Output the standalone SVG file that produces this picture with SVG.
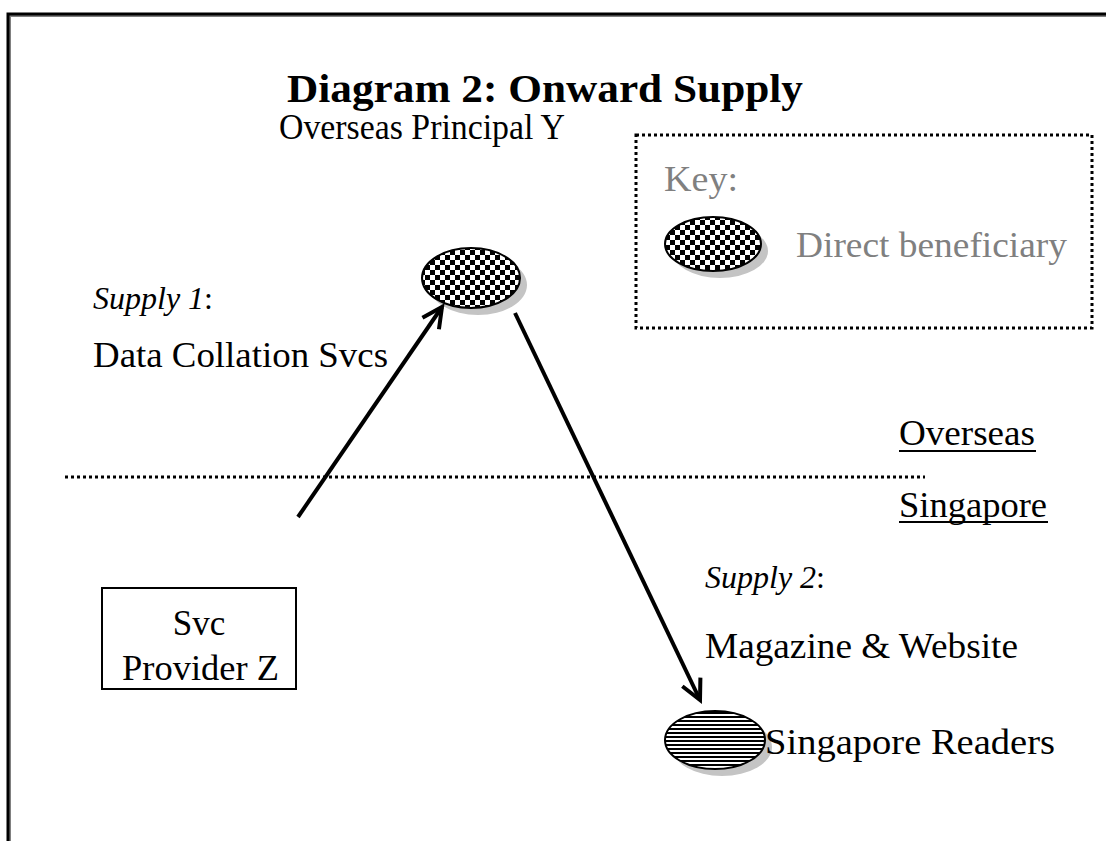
<svg xmlns="http://www.w3.org/2000/svg" width="1106" height="841" viewBox="0 0 1106 841">
<style>
text{font-family:"Liberation Serif","Times New Roman",serif;font-size:35px;fill:#000}
.title{font-weight:bold;font-size:41px}
.grey{fill:#808080}
.it{font-style:italic}
.sup{font-size:32px}
.dot{fill:none;stroke:#000;stroke-width:3;stroke-dasharray:3 3}
.arrow{fill:none;stroke:#000;stroke-width:4;marker-end:url(#head)}
.shadow{fill:#c4c4c4}
.outline{stroke:#000;stroke-width:2}
</style>
<defs>
<pattern id="checker" width="10" height="10" patternUnits="userSpaceOnUse">
<rect width="10" height="10" fill="#fff"/>
<rect width="5" height="5" fill="#000"/>
<rect x="5" y="5" width="5" height="5" fill="#000"/>
</pattern>
<pattern id="stripes" width="10" height="4" patternUnits="userSpaceOnUse">
<rect width="10" height="4" fill="#fff"/>
<rect width="10" height="2" fill="#000"/>
</pattern>
<marker id="head" markerUnits="userSpaceOnUse" markerWidth="30" markerHeight="30" viewBox="-24 -15 30 30" refX="0" refY="0" orient="auto">
<path d="M-20,-10 L0,0 L-20,10" fill="none" stroke="#000" stroke-width="4"/>
</marker>
</defs>
<rect width="1106" height="841" fill="#fff"/>
<g id="frame">
<path d="M10,841 V16 H1106" fill="none" stroke="#808080" stroke-width="2"/>
<path d="M8,841 V14 H1106" fill="none" stroke="#000" stroke-width="3"/>
</g>
<g id="title"><text class="title" x="287" y="102" textLength="516" lengthAdjust="spacingAndGlyphs">Diagram 2: Onward Supply</text></g>
<g id="key">
<rect x="636" y="135" width="456" height="193" class="dot"/>
<text class="grey" x="664" y="191" textLength="74" lengthAdjust="spacingAndGlyphs">Key:</text>
<ellipse cx="720" cy="251" rx="48" ry="27" class="shadow"/>
<ellipse cx="713" cy="244" rx="48" ry="27" fill="url(#checker)" class="outline"/>
<text class="grey" x="796" y="257" textLength="271" lengthAdjust="spacingAndGlyphs">Direct beneficiary</text>
</g>
<g id="divider">
<line x1="65" y1="477" x2="925" y2="477" class="dot"/>
<text x="899" y="445" textLength="136" lengthAdjust="spacingAndGlyphs">Overseas</text>
<line x1="899" y1="451" x2="1036" y2="451" stroke="#000" stroke-width="2"/>
<text x="899" y="517" textLength="148" lengthAdjust="spacingAndGlyphs">Singapore</text>
<line x1="899" y1="522" x2="1048" y2="522" stroke="#000" stroke-width="2"/>
</g>
<g id="principal-y">
<text x="279" y="139" textLength="286" lengthAdjust="spacingAndGlyphs">Overseas Principal Y</text>
<ellipse cx="478" cy="285" rx="49" ry="30" class="shadow"/>
<ellipse cx="471" cy="278" rx="49" ry="30" fill="url(#checker)" class="outline"/>
</g>
<g id="provider-z">
<rect x="102" y="588" width="194" height="101" fill="#fff" stroke="#000" stroke-width="2"/>
<text x="199" y="635" text-anchor="middle" font-size="37">Svc</text>
<text x="122" y="680" textLength="157" lengthAdjust="spacingAndGlyphs">Provider Z</text>
</g>
<g id="readers">
<ellipse cx="722" cy="747" rx="50" ry="29" class="shadow"/>
<ellipse cx="715" cy="740" rx="50" ry="29" fill="url(#stripes)" class="outline"/>
<text x="765" y="754" textLength="290" lengthAdjust="spacingAndGlyphs">Singapore Readers</text>
</g>
<g id="connectors">
<line x1="298" y1="517" x2="442" y2="307" class="arrow"/>
<line x1="515" y1="313" x2="700" y2="700" class="arrow"/>
</g>
<g id="labels">
<text class="sup" x="93" y="309"><tspan class="it">Supply 1</tspan>:</text>
<text x="93" y="367" textLength="295" lengthAdjust="spacingAndGlyphs">Data Collation Svcs</text>
<text class="sup" x="705" y="588"><tspan class="it">Supply 2</tspan>:</text>
<text x="705" y="658" textLength="313" lengthAdjust="spacingAndGlyphs">Magazine &amp; Website</text>
</g>
</svg>
